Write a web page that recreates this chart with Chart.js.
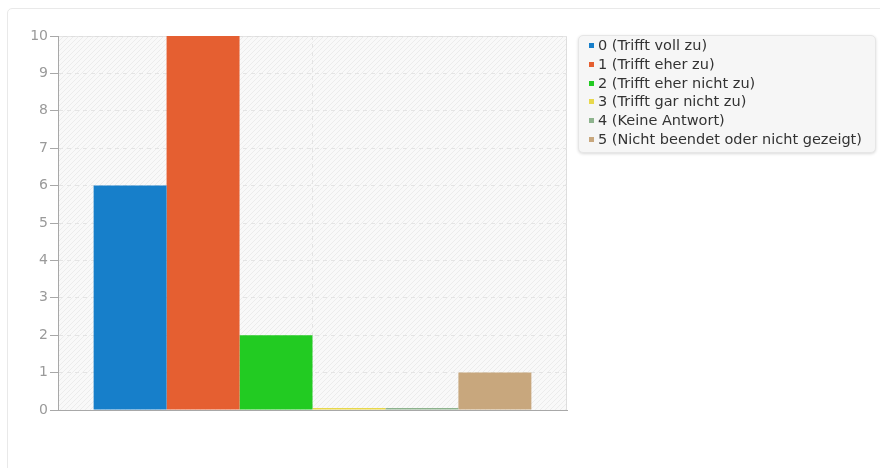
<!DOCTYPE html>
<html>
<head>
<meta charset="utf-8">
<script src="https://cdn.jsdelivr.net/npm/chart.js@4.4.1/dist/chart.umd.min.js"></script>
<style>
  body { margin: 0; background: #fff; font-family: "DejaVu Sans", sans-serif; }
  #card { position: absolute; left: 7px; top: 8px; width: 900px; height: 500px;
          border: 1px solid #e9e9e9; border-radius: 5px; box-sizing: border-box; }
  #wrap { position: absolute; left: 0; top: 0; width: 600px; height: 468px; }
  #legend { position: absolute; left: 578px; top: 35px; width: 298px; height: 118px; box-sizing: border-box;
            background: #f6f6f6; border: 1px solid #e6e6e6; border-radius: 5px;
            box-shadow: 0 1px 3px rgba(0,0,0,0.15); padding: 0 0 0 10px;
            font-size: 14.5px; color: #333; }
  #legend div { height: 18.8px; line-height: 18.8px; white-space: nowrap; }
  #legend span { display: inline-block; width: 5px; height: 5px; margin-right: 4px; vertical-align: 2px; }
</style>
</head>
<body>
<div id="card"></div>
<div id="wrap"><canvas id="answers"></canvas></div>
<div id="legend"></div>
<script>
// values
const categories = [''];
const answerLabels = [
  '0 (Trifft voll zu)',
  '1 (Trifft eher zu)',
  '2 (Trifft eher nicht zu)',
  '3 (Trifft gar nicht zu)',
  '4 (Keine Antwort)',
  '5 (Nicht beendet oder nicht gezeigt)'
];
const answerCounts = [6, 10, 2, 0, 0, 1];
const answerColors = ['#177fca', '#e55f31', '#22cb22', '#e8d84c', '#8db38d', '#c8a77d'];
const yTicks = [0, 1, 2, 3, 4, 5, 6, 7, 8, 9, 10];

// legend in html, built from the same arrays
let legend = document.getElementById('legend');
answerLabels.forEach((lbl, i) => {
  let row = document.createElement('div');
  row.innerHTML = '<span style="background:' + answerColors[i] + '"></span>' + lbl;
  legend.appendChild(row);
});

// hatched plot background
function hatch() {
  let c = document.createElement('canvas');
  c.width = 5; c.height = 5;
  let g = c.getContext('2d');
  g.fillStyle = '#f9f9f9';
  g.fillRect(0, 0, 5, 5);
  g.strokeStyle = '#ececec';
  g.lineWidth = 1;
  g.beginPath();
  g.moveTo(0, 5); g.lineTo(5, 0);
  g.moveTo(-1, 1); g.lineTo(1, -1);
  g.moveTo(4, 6); g.lineTo(6, 4);
  g.stroke();
  return c;
}

const plotBg = {
  id: 'plotBg',
  beforeDraw(chart) {
    let a = chart.chartArea, ctx = chart.ctx;
    ctx.save();
    ctx.fillStyle = ctx.createPattern(hatch(), 'repeat');
    ctx.fillRect(a.left, a.top, a.right - a.left, a.bottom - a.top);
    ctx.strokeStyle = '#dedede';
    ctx.lineWidth = 1;
    ctx.beginPath();
    ctx.moveTo(a.left, a.top + 0.5);
    ctx.lineTo(a.right - 0.5, a.top + 0.5);
    ctx.lineTo(a.right - 0.5, a.bottom);
    ctx.stroke();
    ctx.restore();
  }
};

let datasets = answerLabels.map((lbl, i) => ({
  label: lbl,
  data: [answerCounts[i]],
  backgroundColor: answerColors[i],
  borderWidth: 0,
  minBarLength: 2
}));

new Chart(document.getElementById('answers'), {
  type: 'bar',
  data: { labels: categories, datasets: datasets },
  options: {
    responsive: true,
    maintainAspectRatio: false,
    animation: false,
    layout: { padding: { left: 8, right: 33, top: 36, bottom: 58 } },
    datasets: { bar: { categoryPercentage: 0.86, barPercentage: 1 } },
    plugins: { legend: { display: false }, tooltip: { enabled: false } },
    scales: {
      x: {
        grid: { offset: false, color: '#e4e4e4', drawTicks: false },
        border: { color: '#a8a8a8', width: 1, dash: [4, 4] },
        ticks: { display: false },
        afterFit: s => { s.height = 0; }
      },
      y: {
        min: 0,
        max: 10,
        afterBuildTicks: s => { s.ticks = yTicks.map(v => ({ value: v })); },
        grid: { color: '#e4e4e4', tickColor: '#a8a8a8', tickLength: 8 },
        border: { color: '#a8a8a8', width: 1, dash: [4, 4] },
        ticks: { color: '#9a9a9a', font: { family: 'DejaVu Sans', size: 14 }, padding: 2 },
        afterFit: s => { s.width = 50; }
      }
    }
  },
  plugins: [plotBg]
});
</script>
</body>
</html>
